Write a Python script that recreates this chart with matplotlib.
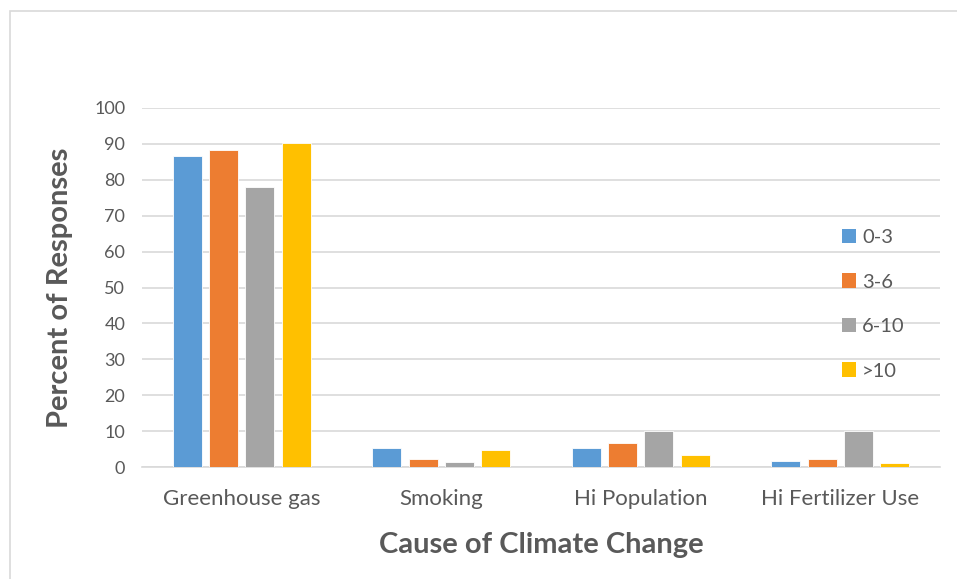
import matplotlib
matplotlib.use("Agg")
import matplotlib.pyplot as plt
from matplotlib.patches import Rectangle, Patch
import numpy as np

plt.rcParams['font.family'] = ['Lato', 'DejaVu Sans']

categories = ["Greenhouse gas", "Smoking", "Hi Population", "Hi Fertilizer Use"]
series_names = ["0-3", "3-6", "6-10", ">10"]
vals_0_3 = [86.7, 5.4, 5.4, 1.8]
vals_3_6 = [88.3, 2.1, 6.8, 2.1]
vals_6_10 = [77.9, 1.5, 10.0, 10.0]
vals_gt10 = [90.3, 4.8, 3.3, 1.2]
y_ticks = [0, 10, 20, 30, 40, 50, 60, 70, 80, 90, 100]

colors = ["#5B9BD5", "#ED7D31", "#A5A5A5", "#FFC000"]
text_color = "#595959"
grid_color = "#D9D9D9"

W, H = 957, 579
fig = plt.figure(figsize=(W / 100, H / 100), dpi=100)
ax = fig.add_axes([142 / W, 1 - 467 / H, (940 - 142) / W, (467 - 108) / H])

# outer chart frame (runs off the right and bottom edges)
fig.patches.append(Rectangle((9.5 / W, -0.5), 2, 1.5 - 10.5 / H, transform=fig.transFigure,
                             fill=False, edgecolor=grid_color, linewidth=1.2, zorder=0))

x = np.arange(len(categories))
stride = 0.182
width = 0.145
all_series = [vals_0_3, vals_3_6, vals_6_10, vals_gt10]
for i, (vals, col) in enumerate(zip(all_series, colors)):
    offs = (i - 1.5) * stride
    ax.bar(x + offs, vals, width=width, color=col, edgecolor="white", linewidth=0.6, zorder=3)

ax.set_xlim(-0.5, 3.5)
ax.set_ylim(0, 100)
ax.set_yticks(y_ticks)
ax.set_xticks(x)
ax.set_xticklabels(categories)
ax.yaxis.grid(True, color=grid_color, linewidth=1.2, zorder=0)
ax.set_axisbelow(True)
for s in ["left", "right", "top"]:
    ax.spines[s].set_visible(False)
ax.spines["bottom"].set_color(grid_color)
ax.spines["bottom"].set_linewidth(1.2)
ax.tick_params(axis="both", length=0, labelcolor=text_color)
ax.tick_params(axis="y", pad=12, labelsize=13)
ax.tick_params(axis="x", pad=16, labelsize=16)

ax.set_ylabel("Percent of Responses", fontsize=21, fontweight="bold", color=text_color, labelpad=15)
ax.set_xlabel("Cause of Climate Change", fontsize=21, fontweight="bold", color=text_color, labelpad=16.5)

handles = [Patch(facecolor=c, edgecolor="none") for c in colors]
leg = ax.legend(handles, series_names, loc="upper left", bbox_to_anchor=(842 / W, 1 - 229 / H),
                bbox_transform=fig.transFigure, frameon=False, fontsize=14.5,
                handlelength=0.7, handleheight=0.7, handletextpad=0.3, labelspacing=1.36,
                borderaxespad=0, borderpad=0)
for t in leg.get_texts():
    t.set_color(text_color)

fig.savefig("out.png", dpi=100, facecolor="white")
